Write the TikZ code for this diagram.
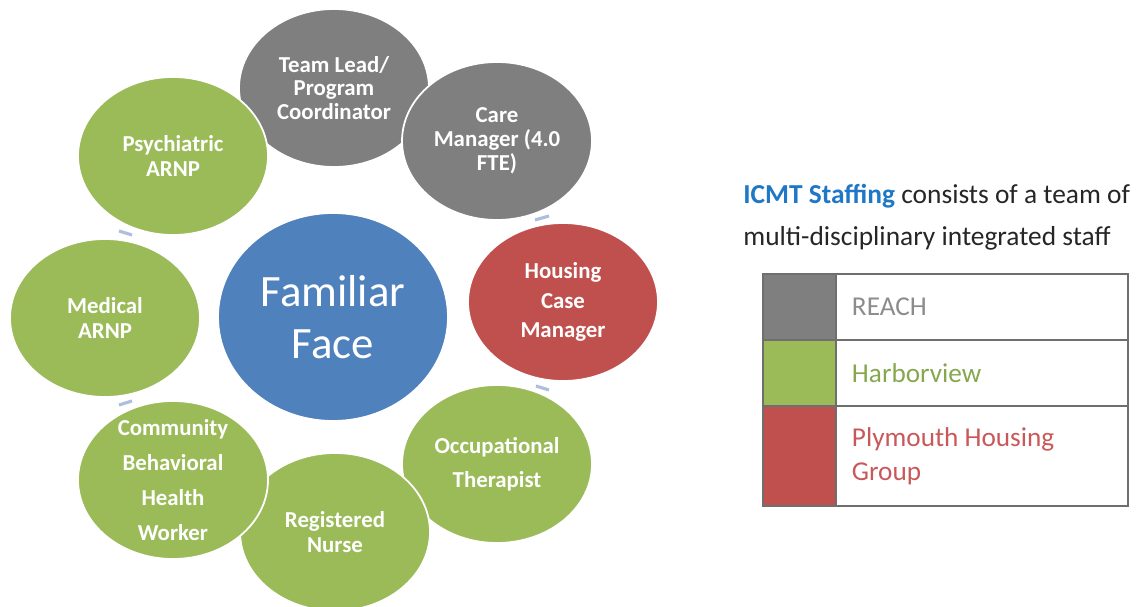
\documentclass[tikz,border=0pt]{standalone}
\usepackage{fontspec}
\setmainfont{Carlito}
\usetikzlibrary{shapes.geometric}
\definecolor{reachgrey}{HTML}{7F7F7F}
\definecolor{hvgreen}{HTML}{9BBB59}
\definecolor{phred}{HTML}{C0504D}
\definecolor{faceblue}{HTML}{4F81BD}
\definecolor{icmtblue}{HTML}{1F78C6}
\definecolor{cycblue}{HTML}{AEBEDD}
\definecolor{headtext}{HTML}{262626}
\definecolor{tablegrey}{HTML}{6F6F6F}
\definecolor{reachtext}{HTML}{8C8C8C}
\definecolor{hvtext}{HTML}{86A74E}
\definecolor{phtext}{HTML}{C9585A}

\begin{document}
\begin{tikzpicture}[x=0.02cm, y=-0.02cm,
    role/.style={ellipse, draw=white, line width=1pt, minimum width=3.8cm, minimum height=3.16cm, inner sep=0pt},
    roletext/.style={text=white, align=center, inner sep=0pt, font=\bfseries\fontsize{13}{#1}\selectfont},
    roletext/.default=13.3,
    keybox/.style={draw=tablegrey, line width=0.8pt, outer sep=0pt, minimum width=1.46cm, anchor=north west},
    keycell/.style={draw=tablegrey, line width=0.8pt, outer sep=0pt, text width=5.2cm, inner xsep=0.32cm, align=flush left, anchor=north west, font=\fontsize{15.5}{19.3}\selectfont},
    cycmark/.style={cycblue, line width=1.8pt}]
    \useasboundingbox (0,0) rectangle (1146,607);
    \node[ellipse, fill=faceblue, draw=white, line width=1pt, minimum width=4.6cm, minimum height=4.16cm, inner sep=0pt] (face) at (333,317) {};
    \node[text=white, align=center, inner sep=0pt, font=\fontsize{25.5}{29.5}\selectfont] (facetext) at (face) {Familiar\\Face};
    \node[role, fill=reachgrey] (lead) at (334,88) {};
    \node[roletext] (leadtext) at (lead) {Team Lead/\\Program\\Coordinator};
    \node[role, fill=reachgrey] (care) at (497,141) {};
    \node[roletext=13.6] (caretext) at (care) {Care\\Manager (4.0\\FTE)};
    \node[role, fill=phred] (housing) at (563,302) {};
    \node[roletext=17] (housingtext) at (housing) {Housing\\Case\\Manager};
    \node[role, fill=hvgreen] (therapist) at (497,464) {};
    \node[roletext=19.3] (therapisttext) at (therapist) {Occupational\\Therapist};
    \node[role, fill=hvgreen] (nurse) at (335,532) {};
    \node[roletext=14] (nursetext) at (nurse) {Registered\\Nurse};
    \node[role, fill=hvgreen] (community) at (173,480) {};
    \node[roletext=19.8] (communitytext) at (community) {Community\\Behavioral\\Health\\Worker};
    \node[role, fill=hvgreen] (medical) at (105,318) {};
    \node[roletext=14] (medicaltext) at (medical) {Medical\\ARNP};
    \node[role, fill=hvgreen] (psych) at (173,156) {};
    \node[roletext=14] (psychtext) at (psych) {Psychiatric\\ARNP};
    \draw[cycmark] (535,220) -- (549,216);
    \draw[cycmark] (536,386) -- (549,390);
    \draw[cycmark] (119,405) -- (132,401);
    \draw[cycmark] (119,231) -- (132,235);
    \node[anchor=west, align=flush left, inner sep=0pt, text=headtext, font=\fontsize{15.6}{23.8}\selectfont] (heading) at (743,217) {{\bfseries\color{icmtblue}ICMT Staffing} consists of a team of\\multi-disciplinary integrated staff};
    \node[keybox, fill=reachgrey, minimum height=1.32cm] (reachkey) at (763,274) {};
    \node[keycell, minimum height=1.32cm, text=reachtext] (reach) at (reachkey.north east) {REACH};
    \node[keybox, fill=hvgreen, minimum height=1.32cm] (hvkey) at (reachkey.south west) {};
    \node[keycell, minimum height=1.32cm, text=hvtext] (harborview) at (hvkey.north east) {Harborview};
    \node[keybox, fill=phred, minimum height=2cm] (phkey) at (hvkey.south west) {};
    \node[keycell, minimum height=2cm, text=phtext] (plymouth) at (phkey.north east) {Plymouth Housing\\Group};
\end{tikzpicture}
\end{document}
